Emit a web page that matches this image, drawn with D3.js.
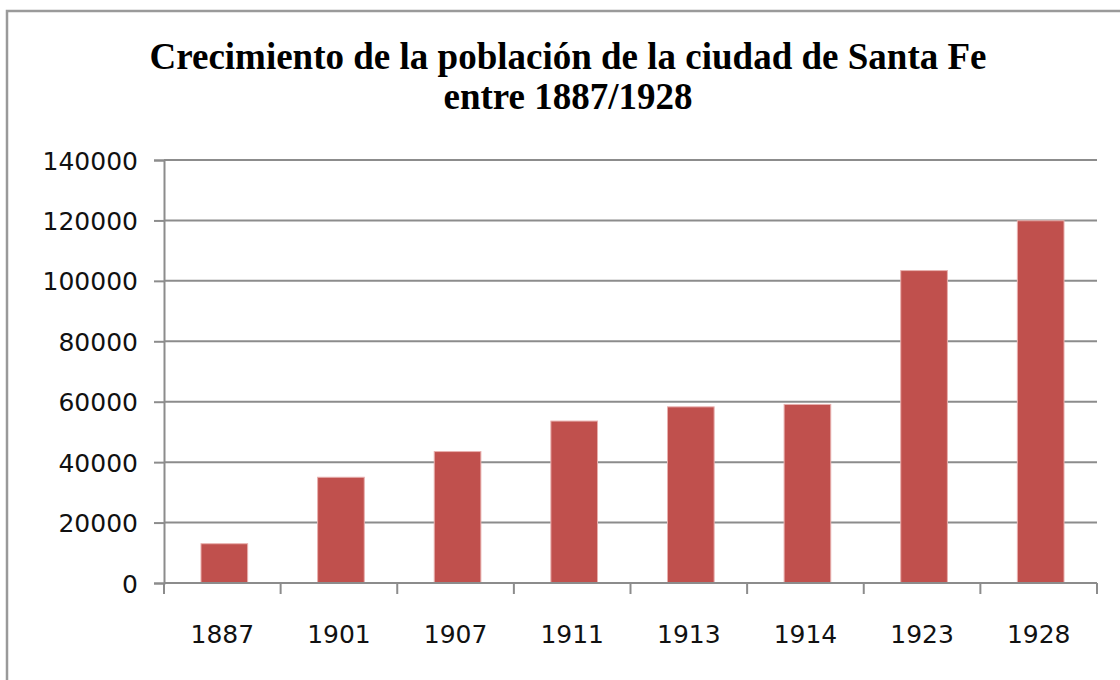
<!DOCTYPE html>
<html>
<head>
  <meta charset="UTF-8">
  <title>Crecimiento de la población de Santa Fe</title>
  <style>
    body { margin: 0; background: #fff; }
  </style>
</head>
<body>
  <script src="https://d3js.org/d3.v7.min.js"></script>
  <script>
// data
var years = ["1887", "1901", "1907", "1911", "1913", "1914", "1923", "1928"];
var population = [13000, 35000, 43500, 53600, 58300, 59100, 103400, 119900];
var yTicks = [0, 20000, 40000, 60000, 80000, 100000, 120000, 140000];
var titleLines = ["Crecimiento de la población de la ciudad de Santa Fe", "entre 1887/1928"];

var W = 1120, H = 680;
var plotLeft = 164, plotRight = 1097, plotTop = 160, plotBottom = 583;

var svg = d3.select("body").append("svg")
  .attr("width", W)
  .attr("height", H);

// outer frame (runs off the right and bottom edges)
svg.append("rect")
  .attr("x", 7).attr("y", 11)
  .attr("width", W + 20).attr("height", H + 20)
  .attr("fill", "#fff")
  .attr("stroke", "#9a9a9a")
  .attr("stroke-width", 2.5);

// title
svg.selectAll(".title")
  .data(titleLines)
  .enter()
  .append("text")
  .attr("x", 568)
  .attr("y", (d, i) => 69 + i * 40)
  .attr("text-anchor", "middle")
  .attr("font-family", "'Liberation Serif', 'Times New Roman', serif")
  .attr("font-weight", "bold")
  .attr("font-size", 37)
  .attr("fill", "#000")
  .text(d => d);

// scales
var x = d3.scaleBand().domain(years).range([plotLeft, plotRight]).paddingInner(0.6).paddingOuter(0.3);
var y = d3.scaleLinear().domain([0, 140000]).range([plotBottom, plotTop]);

// gridlines
svg.selectAll(".grid")
  .data(yTicks)
  .enter()
  .append("line")
  .attr("x1", plotLeft).attr("x2", plotRight)
  .attr("y1", d => y(d)).attr("y2", d => y(d))
  .attr("stroke", "#8c8c8c")
  .attr("stroke-width", 2);

// bars
svg.selectAll(".bar")
  .data(population)
  .enter()
  .append("rect")
  .attr("x", (d, i) => x(years[i]) + 2)
  .attr("width", x.bandwidth())
  .attr("y", d => y(d))
  .attr("height", d => y(0) - y(d))
  .attr("fill", "#c0504d")
  .attr("stroke", "#e8b0ae")
  .attr("stroke-width", 1);

// y axis
var yAxis = svg.append("g")
  .attr("transform", `translate(${plotLeft},0)`)
  .call(d3.axisLeft(y).tickValues(yTicks).tickSize(10).tickPadding(16).tickFormat(d3.format("d")));

// x axis, ticks at category boundaries
var step = (plotRight - plotLeft) / years.length;
var xAxis = svg.append("g")
  .attr("transform", `translate(0,${plotBottom})`)
  .call(d3.axisBottom(x).tickSize(0).tickPadding(42));

xAxis.selectAll(".boundary")
  .data(d3.range(years.length + 1))
  .enter()
  .append("line")
  .attr("x1", i => plotLeft + i * step).attr("x2", i => plotLeft + i * step)
  .attr("y1", 0).attr("y2", 11)
  .attr("stroke", "#8c8c8c")
  .attr("stroke-width", 2);

[yAxis, xAxis].forEach(g => {
  g.select(".domain").attr("stroke", "#8c8c8c").attr("stroke-width", 2);
  g.selectAll(".tick line").attr("stroke", "#8c8c8c").attr("stroke-width", 2);
  g.selectAll("text")
    .attr("font-family", "'DejaVu Sans', Verdana, sans-serif")
    .attr("font-size", 25)
    .attr("fill", "#111");
});
xAxis.select(".domain").attr("d", `M${plotLeft},0H${plotRight}`);
yAxis.selectAll("text").attr("dy", "0.36em");
  </script>
</body>
</html>
